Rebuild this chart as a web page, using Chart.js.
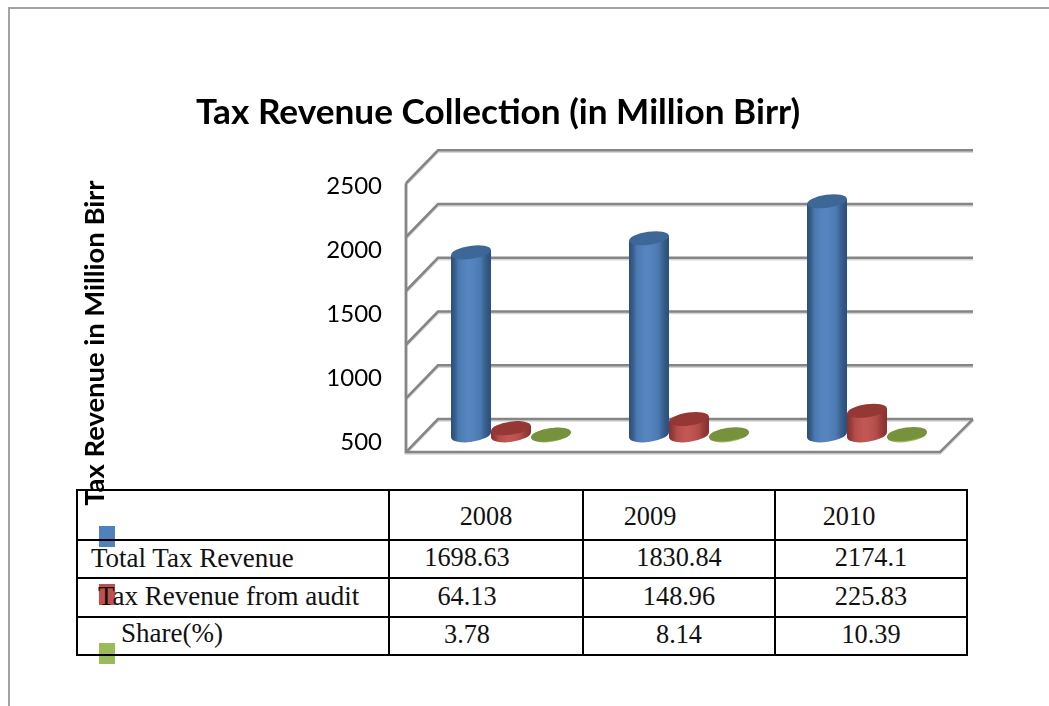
<!DOCTYPE html>
<html><head><meta charset="utf-8">
<style>
html,body{margin:0;padding:0;background:#fff;width:1049px;height:706px;overflow:hidden}
#frame{position:absolute;left:8px;top:7px;width:1041px;height:699px;border-left:2px solid #a3a3a3;border-top:2px solid #a3a3a3;box-sizing:border-box}
#c{position:absolute;left:0;top:0;z-index:3}
.mark{position:absolute;left:99px;width:16px;height:21px;z-index:1}
table{position:absolute;left:76px;top:489px;width:892px;height:167px;border-collapse:collapse;table-layout:fixed;z-index:2;
 font-family:"Liberation Serif",serif;font-size:26.3px;color:#111}
td{border:2px solid #000;padding:0;text-align:center;white-space:nowrap;overflow:visible}
td span{position:relative;display:inline-block}
td.lab{text-align:left;font-size:27px}
</style></head><body>
<div id="frame"></div>
<canvas id="c" width="996" height="706"></canvas>
<script src="https://cdn.jsdelivr.net/npm/chart.js@4/dist/chart.umd.min.js"></script>
<script>
const chartTitle = 'Tax Revenue Collection (in Million Birr)';
const axisTitle = 'Tax Revenue in Million Birr';
const years = ['2008','2009','2010'];
const seriesNames = ['Total Tax Revenue','Tax Revenue from audit','Share(%)'];
const totalTax = [1698.63,1830.84,2174.1];
const auditTax = [64.13,148.96,225.83];
const share = [3.78,8.14,10.39];
const gridValues = [0,500,1000,1500,2000,2500];
const tickLabels = [500,1000,1500,2000,2500];
const colors = ['#4f81bd','#c0504d','#9bbb59'];
const topColors = ['#3c6796','#953735','#76923c'];
const edgeColors = ['rgba(20,50,90,.62)','rgba(90,15,15,.5)','rgba(50,70,10,.4)'];
const allValues = [totalTax,auditTax,share];
const rowTexts = [['1698.63','1830.84','2174.1'],['64.13','148.96','225.83'],['3.78','8.14','10.39']];

/* table */
const tbl = document.createElement('table');
const widths=[312,194,192,192];
tbl.innerHTML = '<colgroup>'+widths.map(w=>`<col style="width:${w}px">`).join('')+'</colgroup>';
const heights=[50,38,39,38];
const headShift=[0,-29,-22], bodyShift=[-19,0,0], labLeft=[13,20,43], labTop=[-1,-1,-3];
function row(cells,h){const tr=document.createElement('tr');tr.style.height=h+'px';cells.forEach(c=>tr.appendChild(c));tbl.appendChild(tr);}
function cell(t,shift,top){const td=document.createElement('td');const s=document.createElement('span');s.textContent=t;s.style.left=(shift||0)+'px';s.style.top=(top||0)+'px';td.appendChild(s);return td;}
row([cell('',0),...years.map((y,i)=>cell(y,headShift[i],2))],heights[0]);
seriesNames.forEach((n,r)=>{
  const l=cell(n,labLeft[r],labTop[r]);l.className='lab';
  row([l,...rowTexts[r].map((t,i)=>cell(t,bodyShift[i],-1))],heights[r+1]);
});
document.body.appendChild(tbl);
[526,584,643].forEach((t,i)=>{const m=document.createElement('div');m.className='mark';m.style.top=t+'px';m.style.background=colors[i];document.body.appendChild(m);});

/* 3D wall depth around the plot */
const depthBack=16, depthFront=17;
const tilt=-0.14, ryRatio=0.155;
function silhouette(ctx,el){
  const rx=el.width/2, ry=rx*ryRatio*1.05, d=rx*Math.tan(-tilt)*.9;
  const x=el.x, t=el.y, b=el.base;
  ctx.beginPath();
  ctx.moveTo(x-rx,t+d);ctx.lineTo(x+rx,t-d);ctx.lineTo(x+rx,b-d);ctx.lineTo(x-rx,b+d);ctx.closePath();
  ctx.moveTo(x+rx,b);
  ctx.ellipse(x,b,rx,ry*2.1,tilt,0,Math.PI*2);
}
const cyl={
  id:'cyl',
  beforeDatasetsDraw(chart){
    const {ctx,chartArea:a,scales:{y}}=chart;
    const L=a.left,R=a.right;
    const line=(pts,col,w,oy)=>{ctx.beginPath();pts.forEach((p,i)=>i?ctx.lineTo(p[0],p[1]+oy):ctx.moveTo(p[0],p[1]+oy));ctx.strokeStyle=col;ctx.lineWidth=w;ctx.lineJoin='miter';ctx.stroke();};
    const y0=y.getPixelForValue(0), yTop=y.getPixelForValue(gridValues[gridValues.length-1]);
    const paths=gridValues.map(v=>{const py=y.getPixelForValue(v);return [[L-depthBack,py+depthFront],[L+depthBack,py-depthBack],[R+depthFront,py-depthBack]];});
    const wall=[[L-depthBack,yTop+depthFront],[L-depthBack,y0+depthFront],[R-depthBack,y0+depthFront],[R+depthFront,y0-depthBack]];
    [[ '#d6d6d6',3,1.2],['#858585',2.6,0]].forEach(([c,w,o])=>{paths.forEach(p=>line(p,c,w,o));line(wall,c,w,o);});
  },
  beforeDatasetDraw(chart,args){
    const ctx=chart.ctx,i=args.index;
    ctx.save();
    args.meta.data.forEach(el=>{silhouette(ctx,el);ctx.fillStyle=colors[i];ctx.fill();});
    ctx.beginPath();
    args.meta.data.forEach(el=>{
      const rx=el.width/2,d=rx*Math.tan(-tilt)*.9;
      ctx.moveTo(el.x-rx,el.y+d);ctx.lineTo(el.x+rx,el.y-d);ctx.lineTo(el.x+rx,el.base-d);ctx.lineTo(el.x-rx,el.base+d);ctx.closePath();
    });
    ctx.clip();
  },
  afterDatasetDraw(chart,args){
    const ctx=chart.ctx,i=args.index;
    ctx.restore();
    args.meta.data.forEach(el=>{
      const rx=el.width/2;
      const g=ctx.createLinearGradient(el.x-rx,0,el.x+rx,0);
      g.addColorStop(0,edgeColors[i]);g.addColorStop(.18,'rgba(0,0,0,.08)');g.addColorStop(.45,'rgba(255,255,255,.04)');g.addColorStop(.75,'rgba(0,0,0,.08)');g.addColorStop(1,edgeColors[i]);
      silhouette(ctx,el);ctx.fillStyle=g;ctx.fill();
      ctx.beginPath();ctx.ellipse(el.x,el.y,rx,rx*ryRatio*2.1,tilt,0,Math.PI*2);ctx.fillStyle=topColors[i];ctx.fill();
    });
  }
};

new Chart(document.getElementById('c'),{
  type:'bar',
  data:{labels:years,datasets:allValues.map((v,i)=>({label:seriesNames[i],data:v,backgroundColor:colors[i],borderWidth:0,clip:false}))},
  options:{
    responsive:false,animation:false,devicePixelRatio:1,
    layout:{padding:{left:40,right:40,top:92,bottom:170}},
    datasets:{bar:{barPercentage:1,categoryPercentage:0.674}},
    plugins:{
      legend:{display:false},tooltip:{enabled:false},
      title:{display:true,text:chartTitle,color:'#000',font:{family:'Lato',size:35.2,weight:'bold',lineHeight:1.2},padding:{top:0,bottom:16}}
    },
    scales:{
      x:{display:false},
      y:{display:false,min:-938.7,max:2648.7},
      y2:{position:'left',min:-234.4,max:2781,
        grid:{display:false},border:{display:false},
        afterBuildTicks(s){s.ticks=tickLabels.map(v=>({value:v}));},
        afterFit(s){s.width=382;},
        ticks:{color:'#000',padding:32,autoSkip:false,font:{family:'Lato',size:24},callback:v=>String(v)},
        title:{display:true,text:axisTitle,color:'#000',font:{family:'Lato',size:27.4,weight:'bold',lineHeight:1.2},padding:{top:38.5,bottom:0}}
      }
    }
  },
  plugins:[cyl]
});
</script>
</body></html>
